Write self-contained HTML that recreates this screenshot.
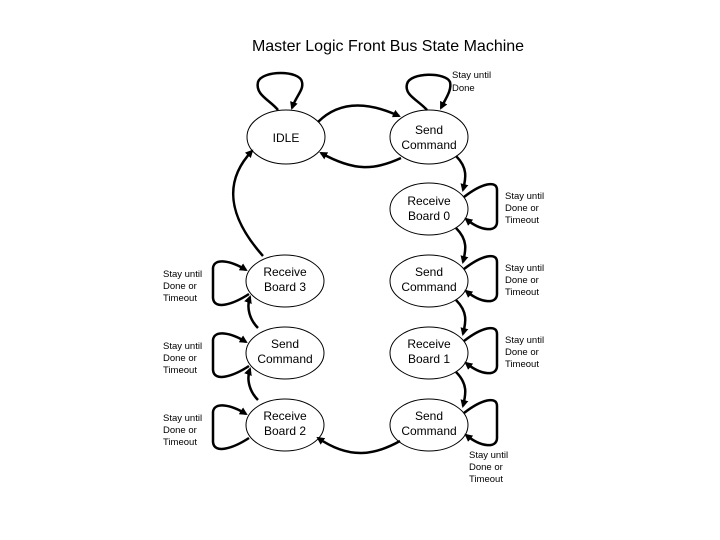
<!DOCTYPE html>
<html><head><meta charset="utf-8"><style>
html,body{margin:0;padding:0;background:#fff;width:720px;height:540px;overflow:hidden}
svg{display:block}
text{font-family:"Liberation Sans",sans-serif;fill:#000}
.n{font-size:12px;text-anchor:middle}
.s{font-size:9.5px}
</style></head><body>
<svg width="720" height="540" viewBox="0 0 720 540">
<defs><marker id="a" markerWidth="8" markerHeight="8" refX="6" refY="4" orient="auto" markerUnits="userSpaceOnUse"><path d="M0,0 L8,4 L0,8 z" fill="#000"/></marker></defs>
<text x="388" y="51" font-size="16" text-anchor="middle">Master Logic Front Bus State Machine</text>
<g fill="#fff" stroke="#000" stroke-width="1">
<ellipse cx="286" cy="137" rx="39" ry="27"/>
<ellipse cx="429" cy="137" rx="39" ry="27"/>
<ellipse cx="429" cy="209" rx="39" ry="26"/>
<ellipse cx="429" cy="281" rx="39" ry="26"/>
<ellipse cx="429" cy="353" rx="39" ry="26"/>
<ellipse cx="429" cy="425" rx="39" ry="26"/>
<ellipse cx="285" cy="281" rx="39" ry="26"/>
<ellipse cx="285" cy="353" rx="39" ry="26"/>
<ellipse cx="285" cy="425" rx="39" ry="26"/>
</g>
<text class="n" x="286" y="142">IDLE</text>
<text class="n" x="429" y="134">Send</text><text class="n" x="429" y="149">Command</text>
<text class="n" x="429" y="205">Receive</text><text class="n" x="429" y="220">Board 0</text>
<text class="n" x="429" y="276">Send</text><text class="n" x="429" y="291">Command</text>
<text class="n" x="429" y="348">Receive</text><text class="n" x="429" y="363">Board 1</text>
<text class="n" x="429" y="420">Send</text><text class="n" x="429" y="435">Command</text>
<text class="n" x="285" y="276">Receive</text><text class="n" x="285" y="291">Board 3</text>
<text class="n" x="285" y="348">Send</text><text class="n" x="285" y="363">Command</text>
<text class="n" x="285" y="420">Receive</text><text class="n" x="285" y="435">Board 2</text>
<g fill="none" stroke="#000" stroke-width="2.5" marker-end="url(#a)">
<path d="M278,110 C270,100 255,95 258,82 C262,70 300,70 302,82 C304,90 296,96 292,108"/>
<path d="M427,110 C418,100 404,95 407,84 C410,72 446,72 450,82 C452,90 446,98 441,108"/>
<path d="M318,122 C335,105 360,98 399,116"/>
<path d="M401,158 C375,170 355,172 321,153"/>
<path d="M456,156 C468,168 466,178 463,190"/>
<path d="M456,228 C468,240 466,250 463,262"/>
<path d="M456,300 C468,312 466,322 463,334"/>
<path d="M456,372 C468,384 466,394 463,406"/>
<path d="M400,441 C375,455 350,460 318,438"/>
<path d="M258,400 C250,392 246,380 250,369"/>
<path d="M258,328 C250,320 246,308 250,297"/>
<path d="M263,256 C240,230 215,190 252,151"/>
<path d="M464,197 C482,183 497,180 497,190 L497,222 C497,232 482,232 466,219"/>
<path d="M464,269 C482,255 497,252 497,262 L497,294 C497,304 482,304 466,291"/>
<path d="M464,341 C482,327 497,324 497,334 L497,366 C497,376 482,376 466,363"/>
<path d="M464,413 C482,399 497,396 497,406 L497,438 C497,448 482,448 466,435"/>
<path d="M249,294 C232,305 214,310 213,298 L213,268 C214,258 230,260 246,270"/>
<path d="M249,366 C232,377 214,382 213,370 L213,340 C214,330 230,332 246,342"/>
<path d="M249,438 C232,449 214,454 213,442 L213,412 C214,402 230,404 246,414"/>
</g>
<text class="s" x="452" y="78">Stay until</text><text class="s" x="452" y="91">Done</text>
<text class="s" x="505" y="199">Stay until</text><text class="s" x="505" y="211">Done or</text><text class="s" x="505" y="223">Timeout</text>
<text class="s" x="505" y="271">Stay until</text><text class="s" x="505" y="283">Done or</text><text class="s" x="505" y="295">Timeout</text>
<text class="s" x="505" y="343">Stay until</text><text class="s" x="505" y="355">Done or</text><text class="s" x="505" y="367">Timeout</text>
<text class="s" x="469" y="458">Stay until</text><text class="s" x="469" y="470">Done or</text><text class="s" x="469" y="482">Timeout</text>
<text class="s" x="163" y="277">Stay until</text><text class="s" x="163" y="289">Done or</text><text class="s" x="163" y="301">Timeout</text>
<text class="s" x="163" y="349">Stay until</text><text class="s" x="163" y="361">Done or</text><text class="s" x="163" y="373">Timeout</text>
<text class="s" x="163" y="421">Stay until</text><text class="s" x="163" y="433">Done or</text><text class="s" x="163" y="445">Timeout</text>
</svg>
</body></html>
